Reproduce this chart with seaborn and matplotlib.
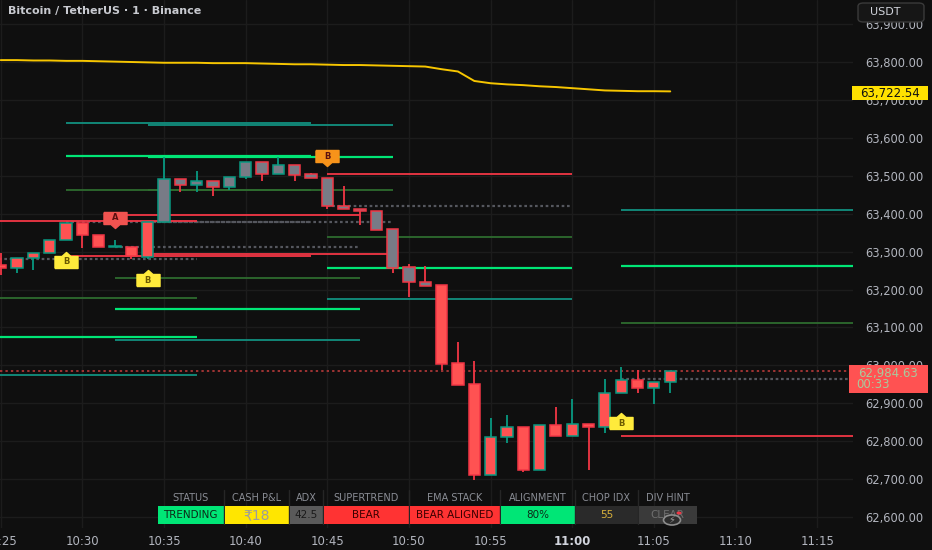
import numpy as np
import pandas as pd
import matplotlib.pyplot as plt
import seaborn as sns
from matplotlib.patches import Rectangle, FancyBboxPatch, Circle

# --- candles, 1 minute bars starting 10:25 ---
bar_idx = list(range(42))
opens = [63265, 63257, 63283, 63296, 63331, 63375, 63344, 63312, 63312, 63286,
         63378, 63491, 63476, 63486, 63470, 63497, 63536, 63505, 63528, 63505,
         63494, 63420, 63412, 63407, 63360, 63259, 63220, 63212, 63006, 62951,
         62711, 62811, 62837, 62724, 62843, 62814, 62845, 62837, 62927, 62961,
         62940, 62956]
highs = [63296, 63283, 63296, 63331, 63375, 63375, 63344, 63331, 63312, 63378,
         63549, 63491, 63513, 63486, 63497, 63536, 63536, 63549, 63528, 63507,
         63494, 63473, 63412, 63407, 63360, 63267, 63262, 63212, 63062, 63012,
         62861, 62869, 62837, 62843, 62890, 62911, 62845, 62964, 62996, 62988,
         62956, 62984.63]
lows = [63238, 63244, 63251, 63296, 63331, 63310, 63312, 63312, 63280, 63280,
        63378, 63457, 63457, 63447, 63462, 63491, 63486, 63505, 63486, 63494,
        63412, 63412, 63370, 63357, 63244, 63180, 63209, 62988, 62948, 62698,
        62711, 62795, 62719, 62724, 62814, 62814, 62724, 62822, 62927, 62927,
        62898, 62927]
closes = [63257, 63283, 63296, 63331, 63375, 63344, 63312, 63312, 63288, 63378,
          63491, 63476, 63486, 63470, 63497, 63536, 63505, 63528, 63502, 63494,
          63420, 63412, 63407, 63357, 63257, 63220, 63209, 63004, 62948, 62711,
          62811, 62837, 62724, 62843, 62814, 62845, 62837, 62927, 62961, 62940,
          62956, 62984.63]
body_fill = ['red'] * 10 + ['gray'] * 17 + ['red'] * 15

# slow moving average (yellow)
ma_vals = [63805, 63805, 63804, 63804, 63803, 63803, 63802, 63801, 63800, 63799,
           63798, 63798, 63798, 63797, 63797, 63797, 63796, 63795, 63794, 63794,
           63793, 63792, 63792, 63791, 63790, 63789, 63788, 63781, 63775, 63750,
           63744, 63741, 63739, 63736, 63734, 63731, 63728, 63725, 63724, 63723,
           63723, 63722.54]
last_price = 62984.63

# horizontal level sets
lvl_price = [63639, 63552, 63462, 63378, 63288,
             63633, 63549, 63462, 63378, 63294,
             63397, 63312, 63230, 63149, 63067,
             63381, 63281, 63178, 63075, 62975,
             63505, 63420, 63339, 63257, 63175,
             63410, 63262, 63112, 62964, 62814]
lvl_start = [4] * 5 + [9] * 5 + [7] * 5 + [-3] * 5 + [20] * 5 + [38] * 5
lvl_end = [19] * 5 + [24] * 5 + [22] * 5 + [12] * 5 + [35] * 5 + [54] * 5
lvl_kind = ['teal', 'green', 'dkgreen', 'dotted', 'red',
            'teal', 'green', 'dkgreen', 'dotted', 'red',
            'red', 'dotted', 'dkgreen', 'green', 'teal',
            'red', 'dotted', 'dkgreen', 'green', 'teal',
            'red', 'dotted', 'dkgreen', 'green', 'teal',
            'teal', 'green', 'dkgreen', 'dotted', 'red']

# signal tags
tag_idx = [7, 4, 9, 20, 38]
tag_price = [63389, 63273, 63225, 63551, 62847]
tag_text = ['A', 'B', 'B', 'B', 'B']
tag_color = ['#f05350', '#ffeb3b', '#ffeb3b', '#f7931a', '#ffeb3b']
tag_up = [False, True, True, False, True]

# axis labels
time_ticks = list(range(0, 51, 5))
time_labels = ['10:25', '10:30', '10:35', '10:40', '10:45', '10:50', '10:55',
               '11:00', '11:05', '11:10', '11:15']
price_ticks = list(range(62600, 64000, 100))

# dashboard table
tbl_head = ['STATUS', 'CASH P&L', 'ADX', 'SUPERTREND', 'EMA STACK', 'ALIGNMENT', 'CHOP IDX', 'DIV HINT']
tbl_vals = ['TRENDING', '₹18', '42.5', 'BEAR', 'BEAR ALIGNED', '80%', '55', 'CLEAR']

BG = '#0f0f0f'
GRID = '#1c1c1c'
TXT = '#b2b5be'
UP = '#089981'
DN = '#f23645'
FILL = {'red': '#ff5252', 'gray': '#787b86'}
LVL = {'teal': ('#12907f', '-', 1.3), 'green': ('#00e676', '-', 1.6),
       'dkgreen': ('#2e6b2f', '-', 1.3), 'dotted': ('#55575e', (0, (1.2, 1.2)), 1.6),
       'red': ('#f23645', '-', 1.3)}

W, H = 932, 550


def fx(x):
    return x / W


def fy(y):
    return 1 - y / H


sns.set_theme(style="dark")
plt.rcParams['font.family'] = ['DejaVu Sans']

fig = plt.figure(figsize=(9.32, 5.5), dpi=100, facecolor=BG)
ax = fig.add_axes([0, fy(528), fx(853), 528 / H])
ax.set_facecolor(BG)

# grid
for t in time_ticks:
    ax.axvline(t, color=GRID, lw=1, zorder=0)
for p in price_ticks:
    ax.axhline(p, color=GRID, lw=1, zorder=0)

# levels
for p, s, e, k in zip(lvl_price, lvl_start, lvl_end, lvl_kind):
    c, ls, lw = LVL[k]
    ax.hlines(p, s, e, colors=c, linestyles=ls, linewidth=lw, zorder=1)

# last price line
ax.axhline(last_price, color='#a03434', ls=(0, (1.2, 1.6)), lw=1.4, zorder=1)

# moving average
sns.lineplot(x=bar_idx, y=ma_vals, color='#f7c600', lw=1.4, ax=ax, zorder=2)

# candles
df = pd.DataFrame({'t': bar_idx, 'o': opens, 'h': highs, 'l': lows, 'c': closes, 'fill': body_fill})
df['edge'] = np.where(df['c'] >= df['o'], UP, DN)
ax.vlines(df['t'], df['l'], df['h'], colors=df['edge'], linewidth=1.3, zorder=3)
heights = np.maximum((df['c'] - df['o']).abs(), 2)
bottoms = np.minimum(df['o'], df['c'])
ax.bar(df['t'], heights, bottom=bottoms, width=0.68,
       color=[FILL[f] for f in df['fill']], edgecolor=df['edge'], linewidth=1.1, zorder=4)

# tags (pentagon labels)
for t, p, s, c, up in zip(tag_idx, tag_price, tag_text, tag_color, tag_up):
    tip = 10 if up else -10
    body = 6 if up else -6
    verts = [(-11.5, -body), (11.5, -body), (11.5, body), (4.5, body), (0, tip),
             (-4.5, body), (-11.5, body), (-11.5, -body)]
    ax.plot([t], [p], marker=verts, markersize=16.6, color=c, mec=c, zorder=6, ls='none')
    ax.text(t, p, s, ha='center', va='center', fontsize=6, fontweight='bold',
            color='#6b5a00' if c == '#ffeb3b' else '#5a1010', zorder=7)

ax.set_xlim(-0.043, 52.19)
ax.set_ylim(62571.2, 63963.5)
for sp in ax.spines.values():
    sp.set_visible(False)

ax.set_xticks(time_ticks)
ax.set_xticklabels(time_labels, fontsize=8.5, color=TXT)
for lab in ax.get_xticklabels():
    if lab.get_text() == '11:00':
        lab.set_fontweight('bold')
        lab.set_color('#d1d4dc')
ax.yaxis.tick_right()
ax.set_yticks(price_ticks)
ax.set_yticklabels([f'{p:,.2f}' for p in price_ticks], fontsize=8.3, color=TXT)
ax.tick_params(axis='both', length=0)
ax.tick_params(axis='x', pad=5)
ax.tick_params(axis='y', pad=9)
ax.grid(False)

# title
fig.text(fx(8), fy(11), 'Bitcoin / TetherUS · 1 · Binance', fontsize=8, fontweight='bold',
         color='#c8cad0', ha='left', va='center')

# USDT button
fig.add_artist(FancyBboxPatch((fx(858), fy(22)), fx(66), 19 / H, boxstyle='round,pad=0,rounding_size=0.006',
                              transform=fig.transFigure, fc='#161616', ec='#3a3a3a', lw=1, zorder=10))
fig.text(fx(885), fy(12), 'USDT', fontsize=8, color='#d1d4dc', ha='center', va='center', zorder=11)

# price tags on axis
fig.add_artist(Rectangle((fx(852), fy(100)), fx(76), 14 / H, transform=fig.transFigure,
                         fc='#ffe100', ec='none', zorder=10))
fig.text(fx(890), fy(93), f'{ma_vals[-1]:,.2f}', fontsize=8.5, color='#111111',
         ha='center', va='center', zorder=11)
fig.add_artist(Rectangle((fx(849), fy(393)), fx(79), 28 / H, transform=fig.transFigure,
                         fc='#ff5252', ec='none', zorder=10))
fig.text(fx(888), fy(373), f'{last_price:,.2f}', fontsize=8.5, color='#a9c99c',
         ha='center', va='center', zorder=11)
fig.text(fx(856), fy(385), '00:33', fontsize=8.5, color='#a9c99c',
         ha='left', va='center', zorder=11)

# dashboard table
col_edges = [157, 224, 289, 323, 409, 500, 575, 638, 697]
cell_fc = ['#00e676', '#ffe600', '#5a5a5a', '#ff3333', '#ff3333', '#00e676', '#2a2a2a', '#3a3a3a']
cell_tc = ['#0c2a18', '#9c9c9c', '#1a1a1a', '#3a0000', '#3a0000', '#0c2a18', '#d8b13c', '#6e6e6e']
for i, (hd, val) in enumerate(zip(tbl_head, tbl_vals)):
    x0, x1 = col_edges[i], col_edges[i + 1]
    xc = (x0 + x1) / 2
    fig.text(fx(xc), fy(498), hd, fontsize=7, color='#8a8d95', ha='center', va='center', zorder=11)
    if i > 0:
        fig.add_artist(plt.Line2D([fx(x0), fx(x0)], [fy(490), fy(524)], transform=fig.transFigure,
                                  color='#262626', lw=1, zorder=10))
    fig.add_artist(Rectangle((fx(x0 + 0.5), fy(523.5)), fx(x1 - x0 - 1), 17.5 / H,
                             transform=fig.transFigure, fc=cell_fc[i], ec='none', zorder=10))
    fig.text(fx(xc), fy(515), val, fontsize=10 if i == 1 else 7.5, color=cell_tc[i],
             ha='center', va='center', zorder=11)

# little icon over the last cell
fig.add_artist(Circle((fx(672), fy(520)), 8.5 / W, transform=fig.transFigure,
                      fc='#2c2c2c', ec='#8d8d8d', lw=1.2, zorder=12))
fig.text(fx(672), fy(520), '⚡', fontsize=7, color='#9a9a9a', ha='center', va='center', zorder=13)
fig.add_artist(Circle((fx(679), fy(513)), 2.5 / W, transform=fig.transFigure,
                      fc='#f23645', ec='none', zorder=13))

fig.savefig('out.png', dpi=100, facecolor=BG)
